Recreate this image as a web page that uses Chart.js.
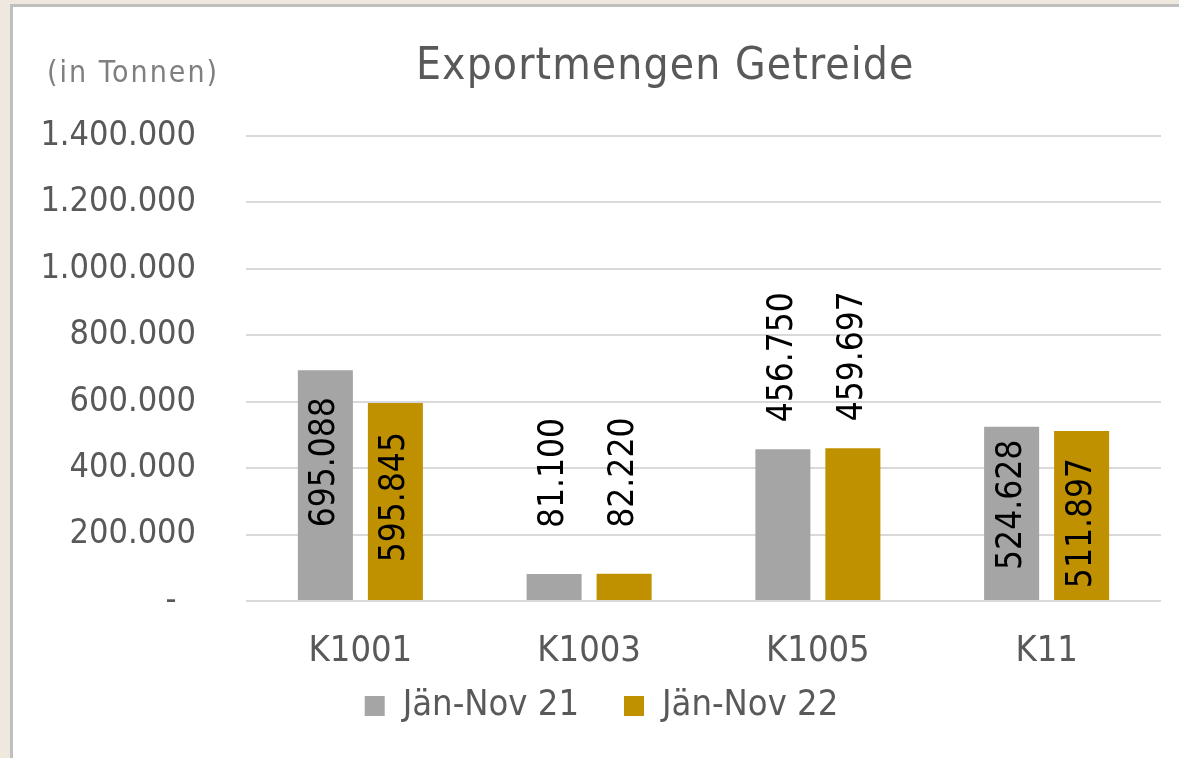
<!DOCTYPE html>
<html>
<head>
<meta charset="utf-8">
<script src="https://cdn.jsdelivr.net/npm/chart.js@4/dist/chart.umd.min.js"></script>
<style>
    body { margin: 0; background: #efe8df; width: 1179px; height: 758px; overflow: hidden; position: relative; font-family: "DejaVu Sans Condensed", "DejaVu Sans", sans-serif; }
    #panel { position: absolute; left: 10px; top: 4px; width: 1200px; height: 800px; background: #fff; border-left: 3px solid #bfbfbf; border-top: 3px solid #bfbfbf; }
    #wrap { position: absolute; left: 0; top: 0; width: 1179px; height: 758px; }
    #title { position: absolute; left: 416px; top: 38px; font-size: 44px; color: #595959; letter-spacing: 1.1px; white-space: nowrap; }
    #unit { position: absolute; left: 47px; top: 54px; font-size: 30px; color: #7f7f7f; letter-spacing: 2px; white-space: nowrap; }
</style>
</head>
<body>
<div id="panel"></div>
<div id="wrap"><canvas id="exportChart" width="1179" height="758"></canvas></div>
<div id="title">Exportmengen Getreide</div>
<div id="unit">(in Tonnen)</div>
<script>
// Data
const categories = ['K1001', 'K1003', 'K1005', 'K11'];
const seriesNames = ['Jän-Nov 21', 'Jän-Nov 22'];
const values21 = [695088, 81100, 456750, 524628];
const values22 = [595845, 82220, 459697, 511897];
const yTicks = [0, 200000, 400000, 600000, 800000, 1000000, 1200000, 1400000];

const fontFamily = '"DejaVu Sans Condensed", "DejaVu Sans", sans-serif';

// German thousands separator
function formatNumber(v) {
    return String(v).replace(/\B(?=(\d{3})+(?!\d))/g, '.');
}

// Draws the rotated value labels inside big bars, above small ones
const barLabels = {
    id: 'barLabels',
    afterDatasetsDraw(chart, args, opts) {
        const ctx = chart.ctx;
        ctx.save();
        ctx.fillStyle = '#000';
        ctx.font = '35px ' + fontFamily;
        ctx.textBaseline = 'middle';
        chart.data.datasets.forEach((ds, di) => {
            const meta = chart.getDatasetMeta(di);
            meta.data.forEach((bar, i) => {
                const v = ds.data[i];
                const gap = opts.gaps[di][i];
                ctx.save();
                if (v > 500000) {
                    ctx.translate(bar.x, bar.y + gap);
                    ctx.rotate(-Math.PI / 2);
                    ctx.textAlign = 'right';
                } else {
                    ctx.translate(bar.x, bar.y - gap);
                    ctx.rotate(-Math.PI / 2);
                    ctx.textAlign = 'left';
                }
                ctx.fillText(formatNumber(v), 0, 0);
                ctx.restore();
            });
        });
        ctx.restore();
    }
};

// Legend sits a little right of the canvas centre; x labels may run into the legend band
const layoutTweaks = {
    id: 'layoutTweaks',
    afterLayout(chart, args, opts) {
        chart.legend.left += opts.dx;
        chart.legend.right += opts.dx;
        chart.scales.x.bottom = chart.height;
    }
};

const ctx = document.getElementById('exportChart').getContext('2d');
const exportChart = new Chart(ctx, {
    type: 'bar',
    data: {
        labels: categories,
        datasets: [
            {
                label: seriesNames[0],
                data: values21,
                backgroundColor: '#a5a5a5',
                barPercentage: 0.786,
                categoryPercentage: 0.612,
            },
            {
                label: seriesNames[1],
                data: values22,
                backgroundColor: '#bf9000',
                barPercentage: 0.786,
                categoryPercentage: 0.612,
            },
        ],
    },
    plugins: [barLabels, layoutTweaks],
    options: {
        responsive: false,
        animation: false,
        layout: {
            padding: { left: 10, right: 18, top: 136, bottom: 24 },
        },
        scales: {
            x: {
                grid: { display: false },
                border: { display: false },
                ticks: {
                    color: '#595959',
                    padding: 21,
                    font: { family: fontFamily, size: 36 },
                },
                afterFit(axis) { axis.height = 42; },
            },
            y: {
                min: 0,
                max: 1400000,
                afterBuildTicks(axis) { axis.ticks = yTicks.map(v => ({ value: v })); },
                grid: { color: '#d9d9d9', lineWidth: 2, drawTicks: false },
                border: { display: false },
                ticks: {
                    color: '#595959',
                    padding: 50,
                    font: { family: fontFamily, size: 34 },
                    callback: v => v === 0 ? '-  ' : formatNumber(v),
                },
                afterFit(axis) { axis.width = 236; },
            },
        },
        plugins: {
            legend: {
                position: 'bottom',
                labels: {
                    color: '#595959',
                    boxWidth: 20,
                    boxHeight: 20,
                    padding: 45,
                    font: { family: fontFamily, size: 36 },
                },
            },
            tooltip: { enabled: false },
            layoutTweaks: { dx: 16 },
            barLabels: { gaps: [[27, 46, 27, 13], [29, 46, 27, 27]] },
        },
    },
});
</script>
</body>
</html>
